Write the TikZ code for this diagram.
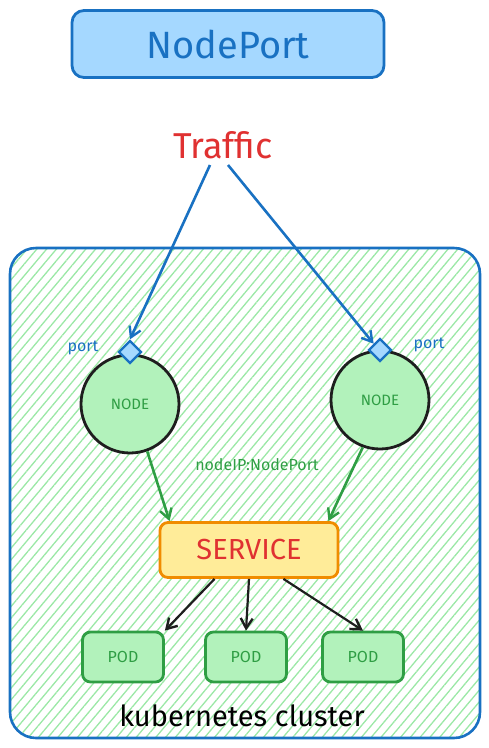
\documentclass[tikz,border=0pt]{standalone}
\usepackage{fontspec}
\setmainfont{Fira Sans}
\usepackage{tikz}
\usetikzlibrary{arrows.meta,patterns.meta,shapes.geometric}

\definecolor{exblue}{HTML}{1971C2}
\definecolor{exlightblue}{HTML}{A5D8FF}
\definecolor{exgreen}{HTML}{2F9E44}
\definecolor{exlightgreen}{HTML}{B2F2BB}
\definecolor{exhatch}{HTML}{9BE8A6}
\definecolor{exred}{HTML}{E03131}
\definecolor{exorange}{HTML}{F08C00}
\definecolor{exyellow}{HTML}{FFEC99}
\definecolor{exblack}{HTML}{1E1E1E}

\tikzset{
  tip/.style={-{Straight Barb[length=10pt,width=12pt,line width=2.4pt]}},
  nodecircle/.style={circle, draw=exblack, fill=exlightgreen, line width=2.8pt,
    minimum size=98pt, inner sep=0pt, text=exgreen, font=\fontsize{15}{17}\selectfont},
  portbox/.style={diamond, draw=exblue, fill=exlightblue, line width=2.4pt,
    minimum size=23pt, inner sep=0pt},
  podbox/.style={draw=exgreen, fill=exlightgreen, line width=2.8pt, rounded corners=8pt,
    minimum width=81pt, minimum height=50pt, text=exgreen, font=\fontsize{16}{18}\selectfont},
  smalltext/.style={font=\fontsize{16}{18}\selectfont}
}

\begin{document}
\begin{tikzpicture}[x=1pt,y=-1pt]
		%%%%% START %%%%%
		\useasboundingbox (0,0) rectangle (489,748);
		
		% cluster
		\draw[exblue, line width=2.6pt, rounded corners=26pt,
		  pattern={Lines[angle=50,distance=7.5pt,line width=1.3pt]}, pattern color=exhatch]
		  (10,248) rectangle (480,738);
		\node (cluster) at (242,716) {\fontsize{29}{34}\selectfont kubernetes cluster};
		
		% title
		\node[draw=exblue, fill=exlightblue, line width=2.8pt, rounded corners=12pt,
		  minimum width=312pt, minimum height=67pt, text=exblue,
		  font=\fontsize{38}{44}\selectfont] (title) at (228,44) {NodePort};
		
		\node[text=exred, font=\fontsize{36}{41}\selectfont] (traffic) at (223,145) {Traffic};
		
		% nodes
		\node[nodecircle] (nodeL) at (130,404) {NODE};
		\node[nodecircle] (nodeR) at (380,400) {NODE};
		\node[portbox] (portL) at (130,352) {};
		\node[portbox] (portR) at (380,350) {};
		\node[text=exblue, smalltext] (labL) at (83,348) {port};
		\node[text=exblue, smalltext] (labR) at (429,345) {port};
		
		\coordinate (tL) at (210,165);
		\coordinate (tR) at (228,165);
		\draw[tip, exblue, line width=2.6pt] (tL) -- (portL.north);
		\draw[tip, exblue, line width=2.6pt] (tR) -- (portR.north west);
		
		% service
		\node[draw=exorange, fill=exyellow, line width=2.8pt, rounded corners=8pt,
		  minimum width=178pt, minimum height=55pt, text=exred,
		  font=\fontsize{29}{34}\selectfont] (svc) at (249,550) {SERVICE};
		
		\draw[tip, exgreen, line width=2.6pt] (nodeL.-70) -- (svc.160);
		\draw[tip, exgreen, line width=2.6pt] (nodeR.-110) -- (svc.20);
		\node[text=exgreen, smalltext] (ipport) at (257,465) {nodeIP:NodePort};
		
		% pods
		\node[podbox] (pod1) at (123,657) {POD};
		\node[podbox] (pod2) at (246,657) {POD};
		\node[podbox] (pod3) at (363,657) {POD};
		
		\draw[tip, exblack, line width=2.2pt] (svc.-140) -- (pod1.north east);
		\draw[tip, exblack, line width=2.2pt] (svc.south) -- (pod2.north);
		\draw[tip, exblack, line width=2.2pt] (svc.-40) -- (pod3.north);
		
		%%%%% END %%%%%
	\end{tikzpicture}
\end{document}
